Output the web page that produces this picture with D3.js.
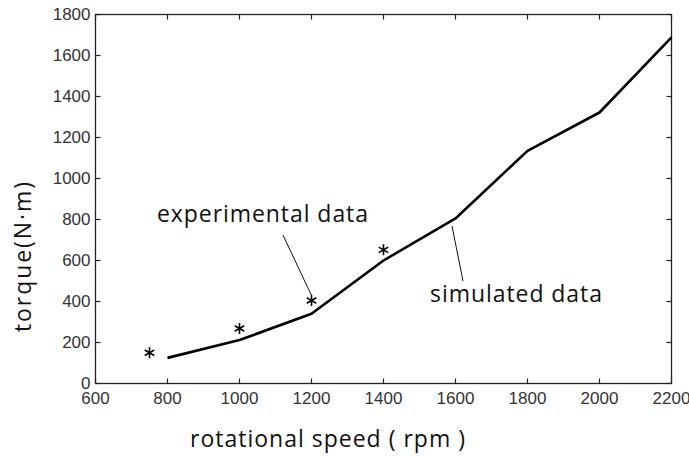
<!DOCTYPE html>
<html>
<head>
<meta charset="utf-8">
<script src="https://cdn.jsdelivr.net/npm/d3@7"></script>
<style>
  html, body { margin: 0; padding: 0; background: #fff; }
  svg { display: block; }
</style>
</head>
<body>
<svg id="chart" width="689" height="456"></svg>
<script>
// Simulated torque curve (rpm -> N·m)
const simSpeed  = [800, 1000, 1200, 1400, 1600, 1800, 2000, 2200];
const simTorque = [125, 212, 340, 600, 805, 1135, 1322, 1688];

// Experimental measurements
const expSpeed  = [750, 1000, 1200, 1400];
const expTorque = [150, 268, 405, 652];

const xTicks = [600, 800, 1000, 1200, 1400, 1600, 1800, 2000, 2200];
const yTicks = [0, 200, 400, 600, 800, 1000, 1200, 1400, 1600, 1800];

const svg = d3.select("#chart");
const plotL = 95.5, plotR = 671.5, plotT = 14.5, plotB = 383.5;

const x = d3.scaleLinear().domain([600, 2200]).range([plotL, plotR]);
const y = d3.scaleLinear().domain([0, 1800]).range([plotB, plotT]);

const tickFont = "Liberation Sans, Arial, sans-serif";
const axisColor = "#222";

// Frame
svg.append("rect")
  .attr("x", plotL).attr("y", plotT)
  .attr("width", plotR - plotL).attr("height", plotB - plotT)
  .attr("fill", "none").attr("stroke", axisColor).attr("stroke-width", 1.3);

// Inward tick marks on all four sides
const tl = 5;
xTicks.forEach(v => {
  svg.append("line").attr("x1", x(v)).attr("x2", x(v))
    .attr("y1", plotB).attr("y2", plotB - tl).attr("stroke", axisColor).attr("stroke-width", 1.2);
  svg.append("line").attr("x1", x(v)).attr("x2", x(v))
    .attr("y1", plotT).attr("y2", plotT + tl).attr("stroke", axisColor).attr("stroke-width", 1.2);
});
yTicks.forEach(v => {
  svg.append("line").attr("x1", plotL).attr("x2", plotL + tl)
    .attr("y1", y(v)).attr("y2", y(v)).attr("stroke", axisColor).attr("stroke-width", 1.2);
  svg.append("line").attr("x1", plotR).attr("x2", plotR - tl)
    .attr("y1", y(v)).attr("y2", y(v)).attr("stroke", axisColor).attr("stroke-width", 1.2);
});

// Tick labels
svg.append("g").selectAll("text").data(xTicks).join("text")
  .attr("x", d => x(d)).attr("y", 404)
  .attr("text-anchor", "middle")
  .attr("font-family", tickFont).attr("font-size", 17)
  .attr("fill", "#333")
  .text(d => d);

svg.append("g").selectAll("text").data(yTicks).join("text")
  .attr("x", plotL - 5).attr("y", d => y(d) + 5.5)
  .attr("text-anchor", "end")
  .attr("font-family", tickFont).attr("font-size", 17)
  .attr("fill", "#333")
  .text(d => d);

// Simulated curve
const line = d3.line().x(d => x(d[0])).y(d => y(d[1]));
svg.append("path")
  .datum(simSpeed.map((s, i) => [s, simTorque[i]]))
  .attr("d", line)
  .attr("fill", "none").attr("stroke", "#000")
  .attr("stroke-width", 2.6).attr("stroke-linejoin", "round");

// Experimental points as asterisks
const star = d3.symbol().type(d3.symbolAsterisk).size(85);
svg.append("g").selectAll("path").data(expSpeed.map((s, i) => [s, expTorque[i]])).join("path")
  .attr("transform", d => `translate(${x(d[0])},${y(d[1])})`)
  .attr("d", star)
  .attr("fill", "none").attr("stroke", "#000").attr("stroke-width", 1.6);

// Annotations
const labelFont = "Open Sans, sans-serif";
svg.append("text")
  .attr("x", 157).attr("y", 222)
  .attr("font-family", labelFont).attr("font-size", 23).attr("fill", "#111")
  .attr("textLength", 211).attr("lengthAdjust", "spacing")
  .text("experimental data");
svg.append("line")
  .attr("x1", 283).attr("y1", 235).attr("x2", x(1200)).attr("y2", y(405) - 5)
  .attr("stroke", "#111").attr("stroke-width", 1);

svg.append("text")
  .attr("x", 430).attr("y", 302)
  .attr("font-family", labelFont).attr("font-size", 23).attr("fill", "#111")
  .attr("textLength", 172).attr("lengthAdjust", "spacing")
  .text("simulated data");
svg.append("line")
  .attr("x1", 452).attr("y1", 226).attr("x2", 463).attr("y2", 281)
  .attr("stroke", "#111").attr("stroke-width", 1);

// Axis titles
svg.append("text")
  .attr("x", 190).attr("y", 447)
  .attr("font-family", labelFont).attr("font-size", 23).attr("fill", "#111")
  .attr("textLength", 275).attr("lengthAdjust", "spacing")
  .text("rotational speed ( rpm )");

svg.append("text")
  .attr("transform", "translate(31,332) rotate(-90)")
  .attr("font-family", labelFont).attr("font-size", 23).attr("fill", "#111")
  .attr("textLength", 150).attr("lengthAdjust", "spacing")
  .text("torque(N·m)");
</script>
</body>
</html>
